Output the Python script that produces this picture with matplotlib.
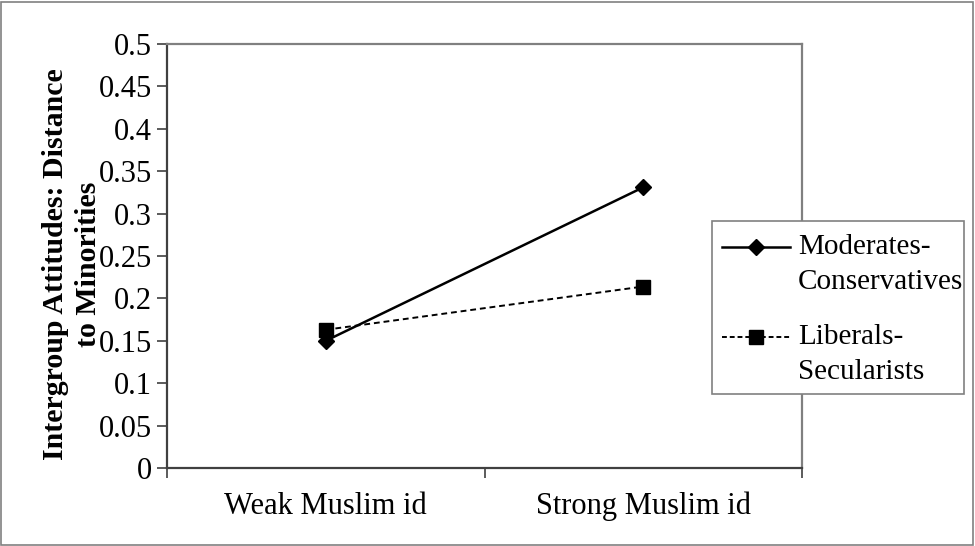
import matplotlib
matplotlib.use("Agg")
from matplotlib import pyplot as plt
from matplotlib.lines import Line2D
from matplotlib.patches import Rectangle

CATEGORIES = ["Weak Muslim id", "Strong Muslim id"]
MODERATES = [0.150, 0.331]
LIBERALS = [0.163, 0.214]
SERIES_NAMES = ["Moderates-\nConservatives", "Liberals-\nSecularists"]
Y_TICKS = [0, 0.05, 0.1, 0.15, 0.2, 0.25, 0.3, 0.35, 0.4, 0.45, 0.5]
Y_LABEL = "Intergroup Attitudes: Distance\nto Minorities"

plt.rcParams["font.family"] = ["Liberation Serif", "DejaVu Serif"]

W, H = 975, 546
fig = plt.figure(figsize=(W / 100, H / 100), dpi=100)
# outer chart border
fig.patches.append(Rectangle((0.001, 0.002), 0.997, 0.995, transform=fig.transFigure,
                             fill=False, edgecolor="#808080", linewidth=1.2))

ax = fig.add_axes([167 / W, 1 - 468 / H, (802 - 167) / W, (468 - 44) / H])

styles = [
    dict(color="black", linewidth=1.8, marker="D", markersize=8.5),
    dict(color="black", linewidth=1.4, linestyle=(0, (3, 2)), marker="s", markersize=10.5),
]

xs = [i + 0.5 for i in range(len(CATEGORIES))]
ax.plot(xs, MODERATES, **styles[0])
ax.plot(xs, LIBERALS, **styles[1])

ax.set_xlim(0, 2)
ax.set_ylim(0, 0.5)
ax.set_yticks(Y_TICKS)
ax.set_yticklabels([f"{t:g}" for t in Y_TICKS], fontsize=22)
ax.set_xticks([0, 1, 2])
ax.set_xticklabels([])
ax.set_xticks(xs, minor=True)
ax.set_xticklabels(CATEGORIES, minor=True, fontsize=22)
ax.tick_params(axis="x", which="minor", length=0, pad=17)
ax.tick_params(axis="both", which="major", direction="out", length=7, width=1.2,
               color="#404040")
ax.tick_params(axis="y", pad=4)

for side in ["top", "right"]:
    ax.spines[side].set_color("#808080")
    ax.spines[side].set_linewidth(1.6)
for side in ["left", "bottom"]:
    ax.spines[side].set_color("#404040")
    ax.spines[side].set_linewidth(1.6)

fig.text(72 / W, 1 - 264 / H, Y_LABEL, rotation=90, ha="center", va="center",
         fontsize=21.5, fontweight="bold", linespacing=1.3)

# Excel-like legend: box, handle on the first text line, label wrapped below
fig.patches.append(Rectangle((712 / W, 1 - 394 / H), (964 - 712) / W, (394 - 221) / H,
                             transform=fig.transFigure, facecolor="white",
                             edgecolor="#808080", linewidth=1.2, zorder=3))
entry_tops = [247, 337]
line_gap = 35
for name, style, top in zip(SERIES_NAMES, styles, entry_tops):
    y = 1 - top / H
    st = dict(style)
    if "linestyle" in st:
        st["linestyle"] = (0, (2.5, 1.5))
    marker = st.pop("marker")
    ms = st.pop("markersize")
    fig.add_artist(Line2D([722 / W, 790 / W], [y, y], transform=fig.transFigure,
                          zorder=4, **st))
    fig.add_artist(Line2D([756 / W], [y], transform=fig.transFigure, marker=marker,
                          markersize=ms, color="black", linestyle="none", zorder=5))
    for k, part in enumerate(name.split("\n")):
        fig.text(798 / W, 1 - (top + k * line_gap) / H, part, ha="left", va="center",
                 fontsize=21, zorder=5)

fig.savefig("out.png", dpi=100)
